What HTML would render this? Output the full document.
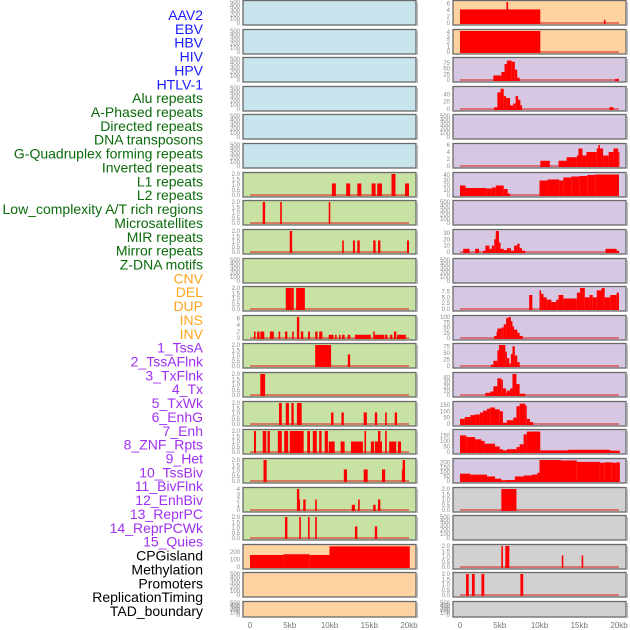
<!DOCTYPE html>
<html><head><meta charset="utf-8"><style>
html,body{margin:0;padding:0;background:#fff;}
svg{display:block;font-family:"Liberation Sans",sans-serif;}
</style></head><body>
<svg id="chart" width="630" height="630" viewBox="0 0 630 630"></svg>
<script>
const labels=["AAV2","EBV","HBV","HIV","HPV","HTLV-1","Alu repeats","A-Phased repeats","Directed repeats","DNA transposons","G-Quadruplex forming repeats","Inverted repeats","L1 repeats","L2 repeats","Low_complexity A/T rich regions","Microsatellites","MIR repeats","Mirror repeats","Z-DNA motifs","CNV","DEL","DUP","INS","INV","1_TssA","2_TssAFlnk","3_TxFlnk","4_Tx","5_TxWk","6_EnhG","7_Enh","8_ZNF_Rpts","9_Het","10_TssBiv","11_BivFlnk","12_EnhBiv","13_ReprPC","14_ReprPCWk","15_Quies","CPGisland","Methylation","Promoters","ReplicationTiming","TAD_boundary"];
const labelColors=["#1a1aff","#1a1aff","#1a1aff","#1a1aff","#1a1aff","#1a1aff","#0b6b0b","#0b6b0b","#0b6b0b","#0b6b0b","#0b6b0b","#0b6b0b","#0b6b0b","#0b6b0b","#0b6b0b","#0b6b0b","#0b6b0b","#0b6b0b","#0b6b0b","#ffa520","#ffa520","#ffa520","#ffa520","#ffa520","#a030f0","#a030f0","#a030f0","#a030f0","#a030f0","#a030f0","#a030f0","#a030f0","#a030f0","#a030f0","#a030f0","#a030f0","#a030f0","#a030f0","#a030f0","#000","#000","#000","#000","#000"];
const xTicks=[0,5,10,15,20];
const xTickLabels=["0","5kb","10kb","15kb","20kb"];
const EMPTY=[];
const T500=[0,100,200,300,400,500];
const T2=[0,0.5,1,1.5,2];
// left column segments [startKb,endKb,value]
const L6=[[10.3,10.8,1.1],[12.1,12.6,1.1],[13.5,14,1.1],[15.3,15.8,1.1],[16,16.6,1.1],[17.8,18.3,2],[19.5,20,1.1]];
const L7=[[1.6,1.9,2],[3.8,4.0,2],[9.9,10.1,2]];
const L8=[[5.0,5.3,2],[11.6,11.8,1.1],[12.95,13.2,1.1],[13.5,13.8,1.1],[15.5,15.8,1.1],[16.1,16.4,1.1],[19.75,20,1.1]];
const L10=[[4.5,5.2,2],[5.2,5.5,2],[5.8,6.9,2]];
const L11=[[0.5,0.7,2],[0.9,1.2,2],[1.3,1.8,2],[2.5,3.0,2],[3.6,3.8,2],[4.4,4.7,2],[5.3,5.5,2],[5.9,6.2,6.5],[6.4,6.7,2],[7.3,7.55,2],[8.2,8.5,2],[8.7,9.1,2],[9.9,10.5,1],[10.7,10.9,1],[11.2,11.4,1],[11.6,11.9,1],[12.3,12.6,1],[13.2,15.2,1],[15.5,15.7,2],[15.6,16.9,1],[17,17.3,1],[17.6,17.9,1],[18.1,18.4,2],[18.5,19.6,1]];
const L12=[[8.2,10.2,2],[12.3,12.6,1.1]];
const L13=[[1.3,1.9,2]];
const L14=[[3.65,4.0,2],[4.5,4.9,2],[5.2,5.5,2],[5.9,6.5,2],[10.2,10.5,1.1],[11.5,11.8,1.1],[14.3,14.7,1.1],[15.7,16,1.1],[17,17.2,1.1],[18.2,18.5,1.1]];
const L15=[[0.5,0.75,2],[1.6,2.05,2],[2.2,2.5,2],[3.5,4.0,2],[4.3,4.8,2],[5.0,6.75,2],[7.2,7.55,2],[7.9,8.4,2],[8.7,9.0,2],[9.4,9.8,2],[9.9,10.65,1],[11.4,11.9,1],[12.7,14.2,1],[14.4,14.6,2],[15.2,15.6,1],[15.7,16.6,1],[16.1,16.4,2],[17,17.2,2],[17.5,18.4,1],[18.6,19,1]];
const L16=[[1.7,2.1,2],[11.8,12.2,1.1],[14.3,14.8,1.1],[16.6,17,1.1],[19.1,19.5,1.1],[19.2,19.5,2]];
const L17=[[5.9,6.2,4],[6.0,6.3,2],[6.7,7.0,2],[8.2,8.4,2],[12.8,13.2,1],[13.6,13.8,2],[15.5,15.8,1],[16.1,16.4,2]];
const L18=[[4.4,4.7,2],[6.2,6.4,2],[7.3,7.5,2],[8.2,8.4,2],[13.2,13.5,1.1],[15.7,16,1.1]];
const L19=[[0,4.2,160],[4.2,7.5,170],[7.5,10,160],[10,20.1,275]];
// right column
const R0=[[0,10.1,4.2],[5.85,6.05,6.5],[18.1,18.3,1]];
const R1=[[0,10.1,4.2]];
const R2=[[4.2,5.2,20],[5.2,5.6,35],[5.6,5.9,70],[5.9,6.5,85],[6.5,6.9,80],[6.9,7.2,45],[7.2,7.5,10],[19.5,20,5]];
const R3=[[4.3,4.7,5],[4.7,5.1,45],[5.1,5.5,55],[5.5,5.8,35],[5.8,6.3,30],[6.3,6.7,10],[6.7,7,15],[7,7.3,35],[7.3,7.6,25],[7.6,7.8,10],[18.8,19.3,5]];
const R5=[[10.1,11.3,1.5],[12.4,13.4,1.5],[13.4,14.7,2.5],[14.7,15.4,3],[14.9,15.4,5],[15.4,15.9,3],[15.9,17.2,4],[17.2,17.6,5],[17.4,17.6,6],[17.6,18.0,5],[18.0,18.7,3],[18.7,19.3,4],[19.3,19.9,5],[19.9,20,4]];
const R6=[[0,0.7,19],[0.7,3.3,14],[3.3,4,13],[4,4.5,15],[4.5,5.5,19],[5.5,6,12],[6,6.3,3],[10,11,29],[11,12.5,31],[12.5,13,29],[13,14,35],[14,15,37],[15,16,38],[16,17,40],[17,20,41]];
const R8=[[0.4,1.2,5],[1.9,2.4,5],[2.9,3.2,2],[3.2,3.7,10],[3.7,4.0,5],[4.0,4.3,10],[4.3,4.5,20],[4.5,4.7,25],[4.5,4.9,33],[4.9,5.1,15],[5.1,5.5,5],[5.5,5.9,3],[5.9,6.4,6],[6.4,6.8,2],[6.8,7.2,10],[7.2,7.5,13],[7.5,7.8,6],[7.8,8.2,2],[18.3,19.7,5],[19.7,20,2]];
const R10=[[8.7,9.1,6],[10.0,10.2,8],[10.2,10.5,6.5],[10.5,10.9,5],[10.9,11.5,4],[11.5,12.1,3],[12.1,12.4,4],[12.4,13.0,6],[13.0,14.7,4.5],[14.7,15.1,7],[15.1,15.7,9],[15.7,16.3,5],[16.3,16.7,6],[16.7,17.2,5],[17.2,17.8,8],[17.8,18.2,9],[18.2,18.9,5],[18.9,19.7,6],[19.7,20,7]];
const R11=[[4.3,4.6,10],[4.6,4.7,30],[4.7,5.2,45],[5.2,5.5,50],[5.5,5.8,65],[5.8,6.1,95],[6.1,6.4,100],[6.4,6.6,80],[6.6,6.8,55],[6.8,7.2,40],[7.2,7.5,25],[7.5,7.9,10]];
const R12=[[3.9,4.2,5],[4.2,4.7,20],[4.7,4.9,60],[4.9,5.7,80],[5.7,5.9,55],[5.9,6.2,30],[6.2,6.4,10],[6.4,6.6,45],[6.6,6.9,75],[6.9,7.2,40],[7.2,7.5,15]];
const R13=[[3.2,3.8,5],[3.8,4.2,8],[4.2,4.7,20],[4.7,5.2,38],[5.2,5.4,35],[5.4,5.8,15],[5.8,5.9,5],[5.9,6.3,10],[6.3,6.6,15],[6.6,7.1,48],[7.1,7.5,25],[7.5,8.2,3]];
const R14=[[0,0.6,40],[0.6,1.3,55],[1.3,1.9,70],[1.9,2.5,75],[2.5,2.9,90],[2.9,3.4,105],[3.4,3.8,120],[3.8,4.4,130],[4.4,5.0,115],[5.0,5.4,100],[5.4,5.9,10],[5.9,6.7,30],[6.7,7.1,50],[7.1,7.5,140],[7.5,8.2,160],[8.2,8.4,145],[8.4,8.8,40],[8.8,9.2,15]];
const R15=[[0,0.8,150],[0.8,1.9,135],[1.9,2.7,115],[2.7,3.1,100],[3.1,4.4,75],[4.4,5.0,50],[5.0,5.4,25],[5.4,5.9,15],[5.9,7.1,25],[7.1,7.5,45],[7.5,8.0,70],[8.0,8.4,160],[8.4,10.1,185],[10.1,13.6,15],[13.6,18.9,20],[18.9,20.1,12]];
const R16=[[0,1.3,80],[1.3,3.4,70],[3.4,4.4,50],[4.4,5.2,25],[5.2,5.7,5],[5.7,6.9,10],[6.9,8.0,50],[8.0,9.0,60],[9.0,9.7,70],[9.7,10.0,90],[10.0,12.7,230],[12.7,14.7,225],[14.7,17.6,210],[17.6,18.2,200],[18.2,19.1,205],[19.1,19.7,200],[19.7,20.1,205]];
const R17=[[5.2,7.1,2]];
const R19=[[5.2,5.4,2],[5.7,6.2,2],[12.8,13.0,1.1],[15.3,15.5,1.1]];
const R20=[[0.76,1.1,2],[1.5,1.85,2],[2.7,3.05,2],[7.6,7.95,2]];

const C={blue:"#c8e4ec",peach:"#ffd2a1",lav:"#d6c8e3",green:"#c8e2a3",grey:"#d1d1d1"};
const left=[
 [EMPTY,500,T500,"blue"],[EMPTY,500,T500,"blue"],[EMPTY,500,T500,"blue"],[EMPTY,500,T500,"blue"],[EMPTY,500,T500,"blue"],[EMPTY,500,T500,"blue"],
 [L6,2,T2,"green"],[L7,2,T2,"green"],[L8,2,T2,"green"],[EMPTY,500,T500,"green"],[L10,2,T2,"green"],[L11,6.5,[0,2,4,6],"green"],
 [L12,2,T2,"green"],[L13,2,T2,"green"],[L14,2,T2,"green"],[L15,2,T2,"green"],[L16,2,T2,"green"],[L17,4,[0,1,2,3,4],"green"],[L18,2,T2,"green"],
 [L19,280,[0,100,200],"peach"],[EMPTY,500,T500,"peach"],[EMPTY,500,T500,"peach"]];
const right=[
 [R0,6.5,[0,2,4,6],"peach"],[R1,4.2,[0,1,2,3,4],"peach"],[R2,92,[0,25,50,75],"lav"],[R3,57,[0,20,40],"lav"],[EMPTY,500,T500,"lav"],[R5,6,[0,2,4,6],"lav"],
 [R6,42,[0,10,20,30,40],"lav"],[EMPTY,500,T500,"lav"],[R8,33,[0,10,20,30],"lav"],[EMPTY,500,T500,"lav"],[R10,9,[0,2.5,5,7.5],"lav"],[R11,100,[0,25,50,75,100],"lav"],
 [R12,80,[0,25,50,75],"lav"],[R13,48,[0,10,20,30,40],"lav"],[R14,165,[0,50,100,150],"lav"],[R15,190,[0,50,100,150],"lav"],[R16,230,[0,50,100,150,200],"lav"],
 [R17,2,T2,"grey"],[EMPTY,500,T500,"grey"],[R19,2,T2,"grey"],[R20,2,T2,"grey"],[EMPTY,500,T500,"grey"]];

const svg=document.getElementById('chart');
const NS="http://www.w3.org/2000/svg";
function mk(tag,attrs,parent){const e=document.createElementNS(NS,tag);for(const k in attrs)e.setAttribute(k,attrs[k]);(parent||svg).appendChild(e);return e;}
function xScale(col,kb){return (col===0?250:460)+kb*7.95;}
function panelTop(i){return Math.round(i*28.62);}
function panelH(i){return i===21?16:25;}

labels.forEach((s,i)=>{
 const t=mk('text',{x:203,y:15+i*13.86+5,'text-anchor':'end','font-size':14,fill:labelColors[i]});
 
 
 t.textContent=s;
});

function fmt(v){return (Number.isInteger(v)&&v<10&&false)?v.toFixed(1):String(v);}
[left,right].forEach((cols,col)=>{
 const x0=col===0?243:453;
 cols.forEach((p,i)=>{
  const [segs,ymax,ticks,bg]=p;
  const top=panelTop(i),h=panelH(i);
  const g=mk('g',{});
  
  
  const base=top+h-2;
  const span=h-4;
  const yS=v=>base-v/ymax*span;
  mk('rect',{x:x0,y:top+0.5,width:173,height:h-0.5,fill:C[bg],stroke:'#6a6a6a','stroke-width':1.3},g);
  mk('line',{x1:x0+174.5,y1:top+2,x2:x0+174.5,y2:top+h+1,stroke:'#bbb','stroke-width':1},g);
  const dec=ticks.some(v=>!Number.isInteger(v))||ymax<=2.1;
  ticks.forEach(v=>{
   const y=yS(v);
   if(y<top-2)return;
   const tt=mk('text',{x:x0-3,y:y+2,'text-anchor':'end','font-size':6,fill:'#888'},g);
   
   
   tt.textContent=dec?v.toFixed(1):String(v);
  });
  if(segs.length){
   mk('line',{x1:xScale(col,0),y1:base,x2:xScale(col,20),y2:base,stroke:'rgba(220,40,40,0.55)','stroke-width':2},g);
  }
  segs.forEach(s=>{
   const xa=xScale(col,s[0]),xb=xScale(col,s[1]);
   const y=Math.max(yS(s[2]),top+1);
   const r=mk('rect',{x:xa,y:y,width:Math.max(xb-xa,1.2),height:base-y+1,fill:'#ff0000'},g);
   
   
  });
 });
 xTicks.forEach((v,k)=>{
  const t=mk('text',{x:xScale(col,v),y:628,'text-anchor':'middle','font-size':8,fill:'#777'});
  
  
  t.textContent=xTickLabels[k];
 });
});
</script>
</body></html>
